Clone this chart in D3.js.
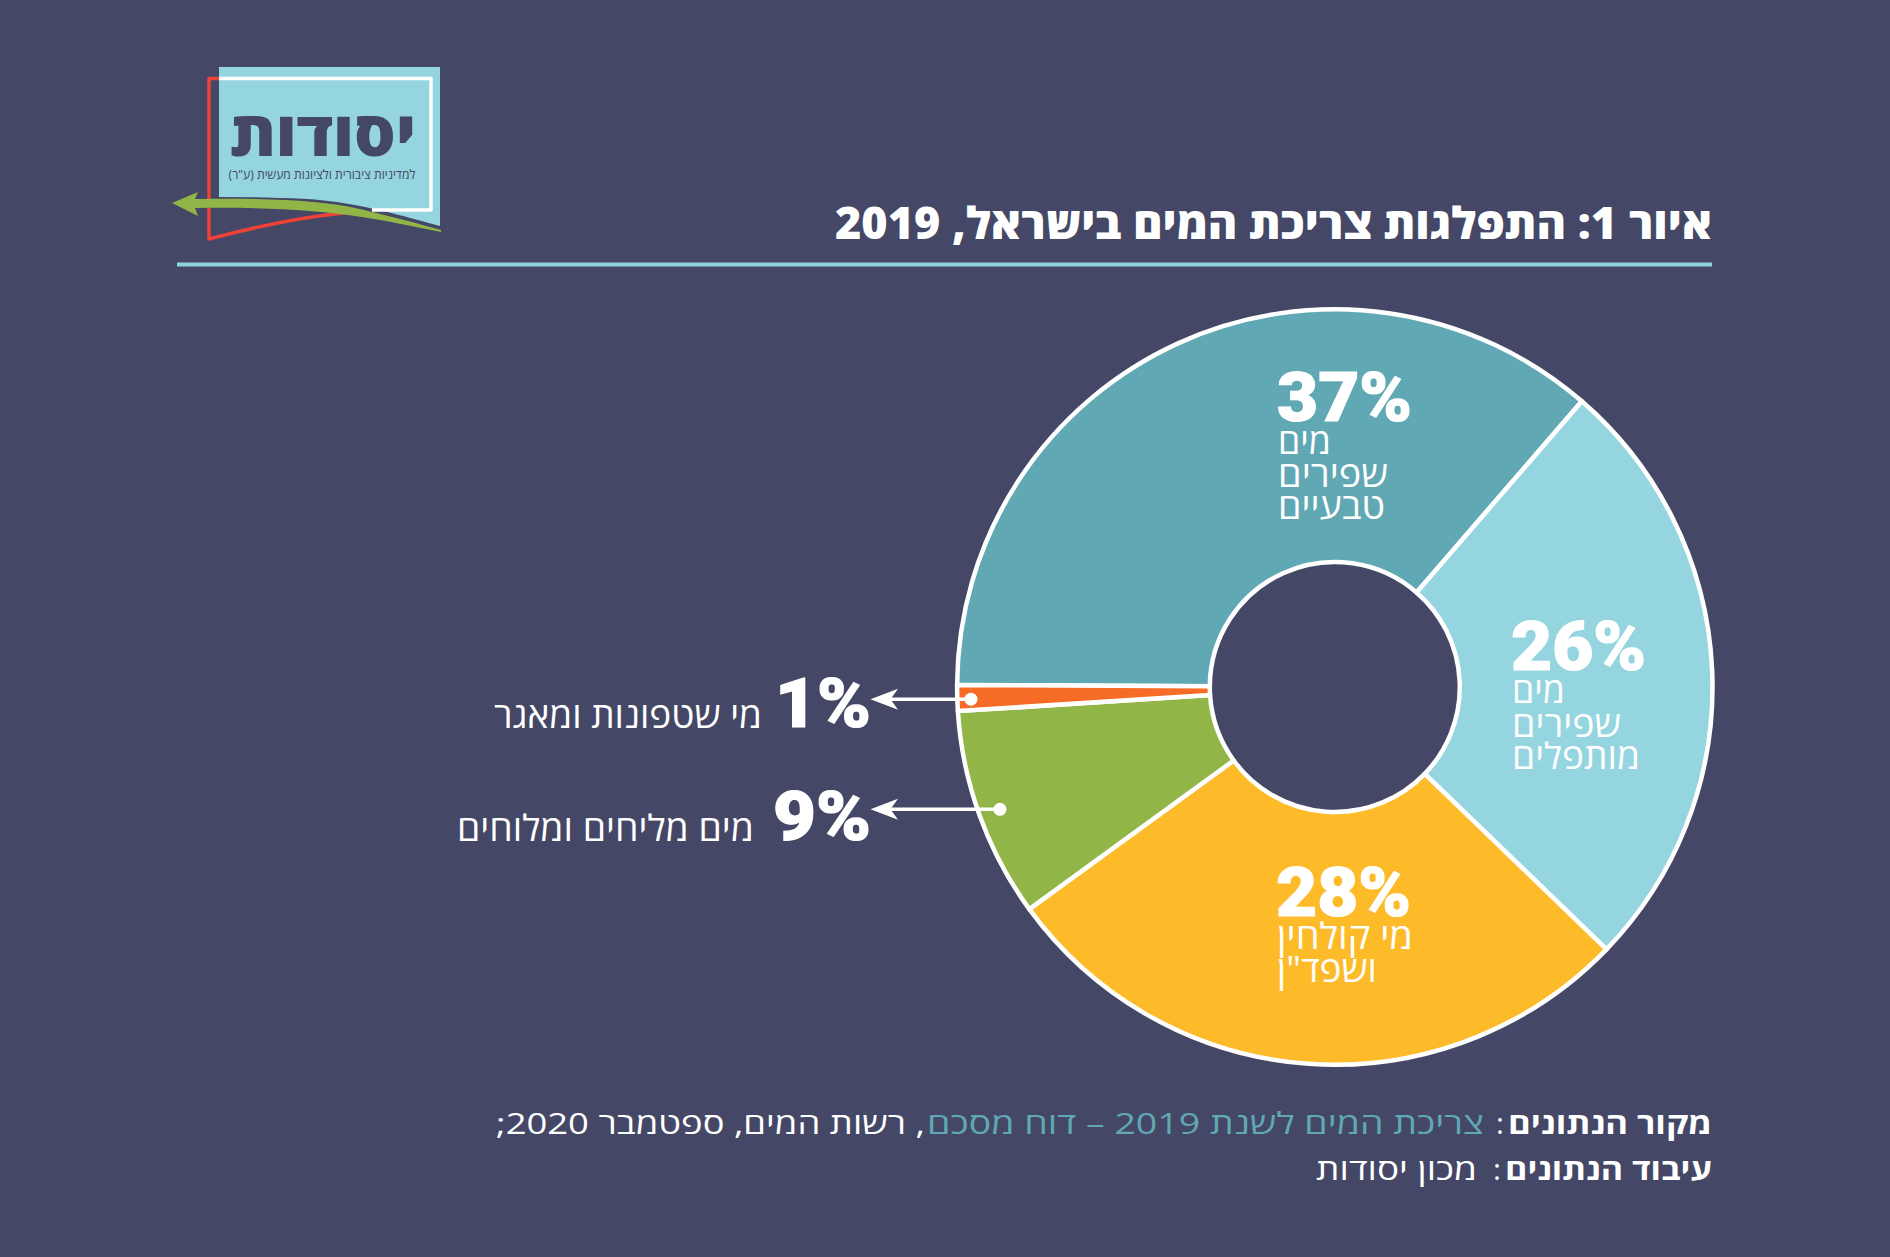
<!DOCTYPE html>
<html>
<head>
<meta charset="utf-8">
<script src="https://cdnjs.cloudflare.com/ajax/libs/d3/7.8.5/d3.min.js"></script>
<style>
html, body { margin: 0; padding: 0; background: #444766; overflow: hidden; }
svg { display: block; }
</style>
</head>
<body>
<svg id="my_svg"></svg>
<script>
const width = 1890;
const height = 1257;

const categories = ['מים שפירים טבעיים', 'מים שפירים מותפלים', 'מי קולחין ושפד"ן', 'מים מליחים ומלוחים', 'מי שטפונות ומאגר'];
const values = [37, 26, 28, 9, 1];
const shares = [36.3, 25.9, 27.8, 9.0, 1.1];
const colors = ['#60a8b3', '#94d5df', '#fdbb2a', '#92b548', '#f66b25'];
const insideLines = [['מים', 'שפירים', 'טבעיים'], ['מים', 'שפירים', 'מותפלים'], ['מי קולחין', 'ושפד"ן']];

const titleText = 'איור 1: התפלגות צריכת המים בישראל, 2019';
const logoName = 'יסודות';
const logoSub = 'למדיניות ציבורית ולציונות מעשית (ע"ר)';

const bg = '#444766';
const teal = colors[0];
const heb = '"Open Sans", "Liberation Sans", "DejaVu Sans", sans-serif';
const num = 'Roboto, "Liberation Sans", sans-serif';

const svg = d3.select('#my_svg')
    .attr('width', width)
    .attr('height', height);

svg.append('rect')
    .attr('width', width)
    .attr('height', height)
    .attr('fill', bg);

// squeeze a text horizontally until it has the wanted width
function addText(parent, str, x, y, w, size, weight, anchor, fill, family) {
    const g = parent.append('g').attr('transform', `translate(${x},${y})`);
    const t = g.append('text')
        .attr('direction', 'rtl')
        .attr('font-family', family || heb)
        .attr('font-size', size)
        .attr('font-weight', weight)
        .attr('fill', fill || '#fff')
        .attr('text-anchor', 'middle')
        .text(str);
    const real = t.node().getComputedTextLength();
    const sx = w ? w / real : 1;
    const done = real * sx;
    const shift = anchor === 'left' ? done / 2 : anchor === 'right' ? -done / 2 : 0;
    t.attr('transform', `translate(${shift},0) scale(${sx},1)`);
    return t;
}

function addPercent(str, x, y, w, anchor) {
    addText(svg, str, x, y, w, 68, 900, anchor, '#fff', num)
        .attr('stroke', '#fff')
        .attr('stroke-width', 1.2);
}

// logo
const logo = svg.append('g').attr('id', 'logo_g');
logo.append('path')
    .attr('d', 'M219,67 H440 V226 C395,214 345,198 280,198 Q250,197 219,197 Z')
    .attr('fill', '#94d5df');
logo.append('path')
    .attr('d', 'M219,78.5 H209 V239 C255,227 300,217 345,213')
    .attr('fill', 'none').attr('stroke', '#ef4136').attr('stroke-width', 3.5)
    .attr('stroke-linejoin', 'round');
logo.append('path')
    .attr('d', 'M219,78.5 H431 V210 H372')
    .attr('fill', 'none').attr('stroke', '#fff').attr('stroke-width', 3.5)
    .attr('stroke-linejoin', 'round');
addText(logo, logoName, 323, 156, 186, 62, 800, 'middle', bg);
addText(logo, logoSub, 322, 179, 187, 13, 500, 'middle', bg);
logo.append('path')
    .attr('d', 'M172,203 L198,192 L195,199 C270,198 320,200 360,209 C390,216 420,224 441,230 L441,232 C415,227 385,220 355,216 C315,210 265,207 195,208 L198,216 Z')
    .attr('fill', '#92b548');

// title
addText(svg, titleText, 1712, 239, 877, 44, 800, 'right');
svg.append('rect')
    .attr('x', 177).attr('y', 262.5)
    .attr('width', 1535).attr('height', 4)
    .attr('fill', '#8ed3df');

// donut
const cx = 1334.8;
const cy = 687;
const outer = 377.7;
const inner = 125;
const startAngle = -89.7 * Math.PI / 180;

const pie = d3.pie().sort(null)
    .startAngle(startAngle)
    .endAngle(startAngle + Math.PI * 2);
const arcs = pie(shares);
const arc = d3.arc().innerRadius(inner).outerRadius(outer);

const chart = svg.append('g')
    .attr('id', 'chart_g')
    .attr('transform', `translate(${cx},${cy})`);

chart.selectAll('path')
    .data(arcs)
    .enter().append('path')
    .attr('d', arc)
    .attr('fill', (d, i) => colors[i])
    .attr('stroke', '#fff')
    .attr('stroke-width', 4.5)
    .attr('stroke-linejoin', 'round')
    .append('title').text((d, i) => categories[i]);

// labels inside the big slices: left edge + baseline of the percent
const insideAt = [[1277, 421], [1511, 670], [1276, 916]];
const insideDy = [[33, 66, 98], [33, 67, 99], [33, 66]];
const insideW = [[53, 110, 107], [53, 109, 128], [136, 100]];
insideAt.forEach((p, i) => {
    addPercent(values[i] + '%', p[0], p[1], 135, 'left');
    insideLines[i].forEach((line, j) => {
        addText(svg, line, p[0] + 1, p[1] + insideDy[i][j], insideW[i][j], 36, 500, 'left');
    });
});

// labels outside, with arrows that start on a dot in the slice
const dotRadius = [null, null, null, 356, 364];
const pctWidth = [null, null, null, 98, 96];
const textEdge = [null, null, null, 754, 762];
const textWidth = [null, null, null, 297, 268];
const baseline = [null, null, null, 840, 727];

[3, 4].forEach(i => {
    const mid = (arcs[i].startAngle + arcs[i].endAngle) / 2;
    const dx = Math.sin(mid) * dotRadius[i];
    const y = cy + 1.5 - Math.cos(mid) * dotRadius[i];
    svg.append('line')
        .attr('x1', cx + dx).attr('x2', 885)
        .attr('y1', y).attr('y2', y)
        .attr('stroke', '#fff').attr('stroke-width', 3.5);
    svg.append('circle')
        .attr('cx', cx + dx).attr('cy', y).attr('r', 6.5)
        .attr('fill', '#fff');
    svg.append('path')
        .attr('transform', `translate(870.5,${y})`)
        .attr('d', d3.line()([[0, 0], [27.5, -10.5], [20, 0], [27.5, 10.5]]) + 'Z')
        .attr('fill', '#fff');
    addPercent(values[i] + '%', 871, baseline[i], pctWidth[i], 'right');
    addText(svg, categories[i], textEdge[i], baseline[i] + 1, textWidth[i], 36, 500, 'right');
});

// source lines
addText(svg, 'מקור הנתונים', 1712, 1134, 204, 30, 700, 'right');
addText(svg, ':', 1504, 1134, null, 30, 400, 'right');
addText(svg, 'צריכת המים לשנת 2019 – דוח מסכם', 1484, 1134, 557, 30, 400, 'right', teal);
addText(svg, ', רשות המים, ספטמבר 2020;', 925, 1134, 429, 30, 400, 'right');
addText(svg, 'עיבוד הנתונים', 1712, 1180, 207, 30, 700, 'right');
addText(svg, ':', 1501, 1180, null, 30, 400, 'right');
addText(svg, 'מכון יסודות', 1477, 1180, 161, 30, 400, 'right');
</script>
</body>
</html>
